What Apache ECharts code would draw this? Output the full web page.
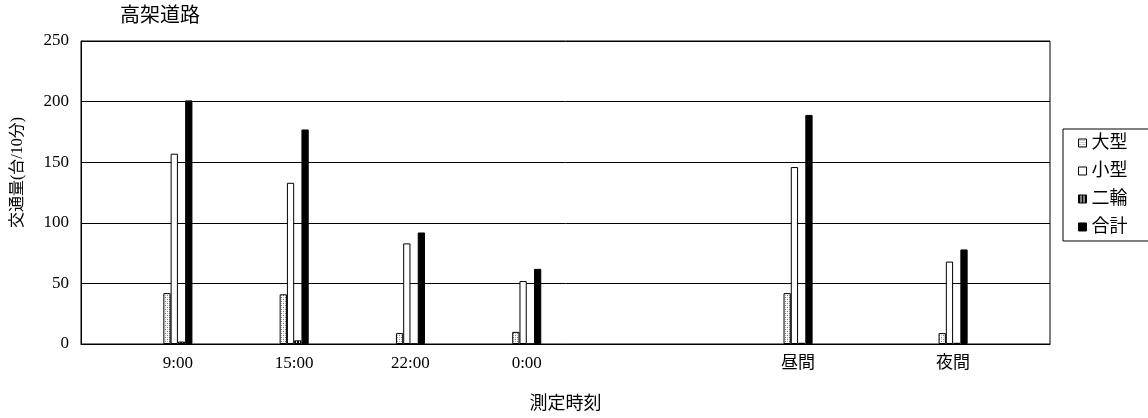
<!DOCTYPE html>
<html>
<head>
<meta charset="utf-8">
<script src="https://cdn.jsdelivr.net/npm/echarts@6/dist/echarts.min.js"></script>
<style>
html,body{margin:0;padding:0;background:#fff;}
#chart{width:1148px;height:418px;}
</style>
</head>
<body>
<div id="chart"></div>
<script>
// Tick labels for the 25 slots of the category axis (blank slots have no measurement)
const categories = ['', '', '9:00', '', '', '15:00', '', '', '22:00', '', '', '0:00', '', '', '', '', '', '', '昼間', '', '', '', '夜間', '', ''];
// Values for each labelled category, in order: 9:00, 15:00, 22:00, 0:00, 昼間, 夜間
const large = [42, 41, 9, 10, 42, 9];
const small = [157, 133, 83, 52, 146, 68];
const twoWheel = [2, 3, 0, 0, 1, 1];
const total = [201, 177, 92, 62, 189, 78];
const seriesNames = ['大型', '小型', '二輪', '合計'];
const titleText = '高架道路';
const yName = '交通量(台/10分)';
const xName = '測定時刻';

function spread(vals) {
  let k = 0;
  return categories.map(c => c === '' ? null : vals[k++]);
}

function makePattern(draw, w, h) {
  const c = document.createElement('canvas');
  c.width = w; c.height = h;
  const ctx = c.getContext('2d');
  draw(ctx);
  return { image: c, repeat: 'repeat' };
}
const dotPattern = makePattern(ctx => {
  ctx.fillStyle = '#fff'; ctx.fillRect(0, 0, 4, 4);
  ctx.fillStyle = '#777'; ctx.fillRect(1, 1, 1, 1); ctx.fillRect(3, 3, 1, 1);
  ctx.fillStyle = '#bbb'; ctx.fillRect(3, 1, 1, 1); ctx.fillRect(1, 3, 1, 1);
}, 4, 4);
const stripePattern = makePattern(ctx => {
  ctx.fillStyle = '#000'; ctx.fillRect(0, 0, 3, 3);
  ctx.fillStyle = '#fff'; ctx.fillRect(2, 0, 1, 3);
}, 3, 3);

const fonts = '"Liberation Serif", "Noto Sans CJK JP", serif';
const fills = [dotPattern, '#ffffff', stripePattern, '#000000'];
const dataSets = [large, small, twoWheel, total];

const chart = echarts.init(document.getElementById('chart'), null, { renderer: 'canvas' });
chart.setOption({
  animation: false,
  backgroundColor: '#fff',
  textStyle: { fontFamily: fonts, color: '#000' },
  title: {
    text: titleText,
    left: 120, top: 7,
    padding: 0,
    textStyle: { fontFamily: fonts, fontSize: 20, fontWeight: 'normal', color: '#000' }
  },
  legend: {
    orient: 'vertical',
    left: 1063, top: 129,
    data: seriesNames,
    icon: 'rect',
    itemWidth: 8, itemHeight: 8,
    itemGap: 10,
    padding: [5, 30, 5, 15],
    borderColor: '#000', borderWidth: 1,
    textStyle: { fontFamily: fonts, fontSize: 18, color: '#000' },
    itemStyle: { borderColor: '#000', borderWidth: 1 }
  },
  grid: {
    left: 81, right: 98, top: 41, bottom: 71,
    show: true, borderColor: '#000', borderWidth: 1
  },
  xAxis: {
    type: 'category',
    data: categories,
    name: xName,
    nameLocation: 'middle',
    nameGap: 51,
    nameTextStyle: { fontFamily: fonts, fontSize: 18, color: '#000' },
    axisLine: { lineStyle: { color: '#000', width: 1 } },
    axisTick: { show: false },
    axisLabel: { interval: 0, fontSize: 17, color: '#000', margin: 11, fontFamily: fonts }
  },
  yAxis: {
    type: 'value',
    min: 0, max: 250, interval: 50,
    name: yName,
    nameLocation: 'middle',
    nameGap: 55,
    nameRotate: 90,
    nameTextStyle: { fontFamily: fonts, fontSize: 16, color: '#000', padding: [0, 0, 0, 40] },
    axisLine: { show: true, lineStyle: { color: '#000', width: 1 } },
    axisTick: { show: false },
    axisLabel: { fontSize: 17, color: '#000', margin: 12, fontFamily: fonts },
    splitLine: { lineStyle: { color: '#000', width: 1 } }
  },
  series: seriesNames.map((n, i) => ({
    name: n,
    type: 'bar',
    data: spread(dataSets[i]),
    barGap: '0%',
    barCategoryGap: '25%',
    itemStyle: { color: fills[i], borderColor: '#000', borderWidth: 1 }
  }))
});
</script>
</body>
</html>
